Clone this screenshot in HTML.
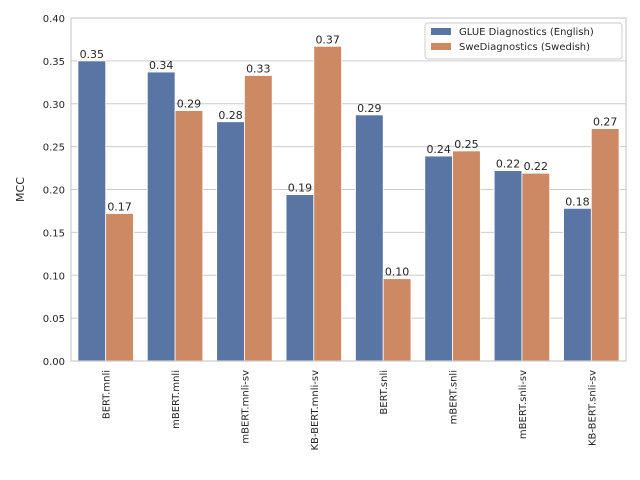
<!DOCTYPE html>
<html><head><meta charset="utf-8"><style>body{margin:0;background:#fff}svg{display:block;font-family:"DejaVu Sans","Liberation Sans",sans-serif}</style></head>
<body>
<svg id="chart" width="640" height="480"></svg>
<script>
const categories=["BERT.mnli","mBERT.mnli","mBERT.mnli-sv","KB-BERT.mnli-sv","BERT.snli","mBERT.snli","mBERT.snli-sv","KB-BERT.snli-sv"];
const glueValues=[0.350,0.337,0.279,0.194,0.287,0.239,0.222,0.178];
const sweValues=[0.172,0.292,0.333,0.367,0.096,0.245,0.219,0.271];
const glueLabels=["0.35","0.34","0.28","0.19","0.29","0.24","0.22","0.18"];
const sweLabels=["0.17","0.29","0.33","0.37","0.10","0.25","0.22","0.27"];
const yTicks=[0,0.05,0.10,0.15,0.20,0.25,0.30,0.35,0.40];
const seriesNames=["GLUE Diagnostics (English)","SweDiagnostics (Swedish)"];
const colors=["#5975a4","#cc8963"];
const NS="http://www.w3.org/2000/svg";
const svg=document.getElementById("chart");
const L=71,R=626,T=18,B=361;
const y=v=>B-(v/0.4)*(B-T);
const gw=(R-L)/categories.length;
const x=i=>L+gw*i;
function mk(tag,attrs,parent){const e=document.createElementNS(NS,tag);for(const k in attrs)e.setAttribute(k,attrs[k]);(parent||svg).appendChild(e);return e;}
// grid + y ticks
yTicks.forEach(t=>{
 const g=mk("line",{x1:L,x2:R,y1:y(t),y2:y(t),stroke:"#cccccc","stroke-width":1});
 
 
 const tx=mk("text",{x:L-6,y:y(t)+4,"text-anchor":"end","font-size":10,fill:"#262626"});
 tx.textContent=t.toFixed(2);
 
 
});
const yt=mk("text",{x:24,y:(T+B)/2,"text-anchor":"middle","font-size":11,fill:"#262626",transform:`rotate(-90 24 ${(T+B)/2})`});
yt.textContent="MCC";


const bw=gw*0.4;
categories.forEach((c,i)=>{
 [glueValues,sweValues].forEach((vals,s)=>{
  const bx=x(i)+gw*0.1+bw*s;
  const r=mk("rect",{x:bx,y:y(vals[i]),width:bw,height:B-y(vals[i]),fill:colors[s],stroke:"#fff","stroke-width":0.8});
  
  
  const lb=mk("text",{x:bx+bw/2,y:y(vals[i])-3,"text-anchor":"middle","font-size":11,fill:"#262626"});
  lb.textContent=(s?sweLabels:glueLabels)[i];
  
  
 });
 const cx=x(i)+gw/2+4;
 const xl=mk("text",{x:cx,y:370,"text-anchor":"end","font-size":10,fill:"#262626",transform:`rotate(-90 ${cx} 370)`});
 xl.textContent=c;
 
 
});
const fr=mk("rect",{x:L,y:T,width:R-L,height:B-T,fill:"none",stroke:"#cccccc","stroke-width":1.2});


const lg=mk("g",{});


mk("rect",{x:425,y:23,width:197,height:36,rx:3,fill:"#fff",stroke:"#cccccc","fill-opacity":0.8},lg);
seriesNames.forEach((n,s)=>{
 const sw=mk("rect",{x:431,y:28+s*15,width:20,height:7,fill:colors[s]},lg);
 
 
 const t=mk("text",{x:459,y:35+s*15,"font-size":10,fill:"#262626"},lg);
 t.textContent=n;
 
 
});
</script>
</body></html>
